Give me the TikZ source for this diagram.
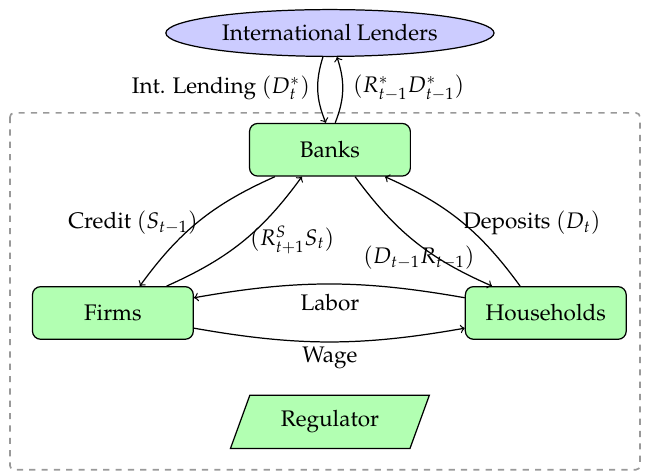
\documentclass[tikz,border=0pt,11pt]{standalone}
\usepackage[T1]{fontenc}
\usepackage{mathpazo}
\usetikzlibrary{shapes.geometric}
\begin{document}
\begin{tikzpicture}[semithick,agent/.style={draw,fill=green!30,rounded corners,minimum width=2.75cm,minimum height=0.9cm},
    flow/.style={->,bend right=15}]
    \useasboundingbox (0,0) rectangle (11.043,-8.085);
    \draw[gray!80,dashed,thick,rounded corners=2pt] (0.17,-1.93) rectangle (10.94,-8.03);

    \node[draw,ellipse,fill=blue!20,minimum width=5.61cm,minimum height=0.8cm] (lenders) at (5.64,-0.564) {International Lenders};
    \node[agent] (banks) at (5.64,-2.56) {Banks};
    \node[agent] (firms) at (1.93,-5.35) {Firms};
    \node[agent] (households) at (9.33,-5.35) {Households};
    \node[draw,trapezium,trapezium left angle=70,trapezium right angle=110,fill=green!30,minimum height=0.9cm,minimum width=3.42cm] (regulator) at (5.64,-7.21) {Regulator};

    \draw[->] ([xshift=-0.12cm]lenders.south) to[bend right=20] ([xshift=-0.07cm]banks.north);
    \draw[->] ([xshift=0.09cm]banks.north) to[bend right=20] ([xshift=0.12cm]lenders.south);
    \node[anchor=east] (lending) at (5.436,-1.504) {Int. Lending $(D^*_t)$};
    \node[anchor=west] (repay) at (5.897,-1.504) {$(R^*_{t-1}D^*_{t-1})$};

    \draw[flow] ([xshift=-0.94cm]banks.south) to[bend right=15] ([xshift=0.46cm]firms.north);
    \draw[flow] ([xshift=0.92cm]firms.north) to[bend right=15] ([xshift=-0.48cm]banks.south);
    \draw[flow] ([xshift=0.43cm]banks.south) to[bend right=15] ([xshift=-0.92cm]households.north);
    \draw[flow] ([xshift=-0.44cm]households.north) to[bend right=15] ([xshift=0.94cm]banks.south);

    \node (credit) at (2.274,-3.812) {Credit $(S_{t-1})$};
    \node (return) at (4.994,-4.103) {$(R^S_{t+1}S_t)$};
    \node (interest) at (7.162,-4.410) {$(D_{t-1}R_{t-1})$};
    \node (deposits) at (9.094,-3.812) {Deposits $(D_t)$};

    \draw[->] ([yshift=0.26cm]households.west) to[bend right=10] ([yshift=0.26cm]firms.east);
    \draw[->] ([yshift=-0.26cm]firms.east) to[bend right=10] ([yshift=-0.26cm]households.west);
    \node (labor) at (5.641,-5.179) {Labor};
    \node (wage) at (5.641,-6.12) {Wage};

\end{tikzpicture}
\end{document}
